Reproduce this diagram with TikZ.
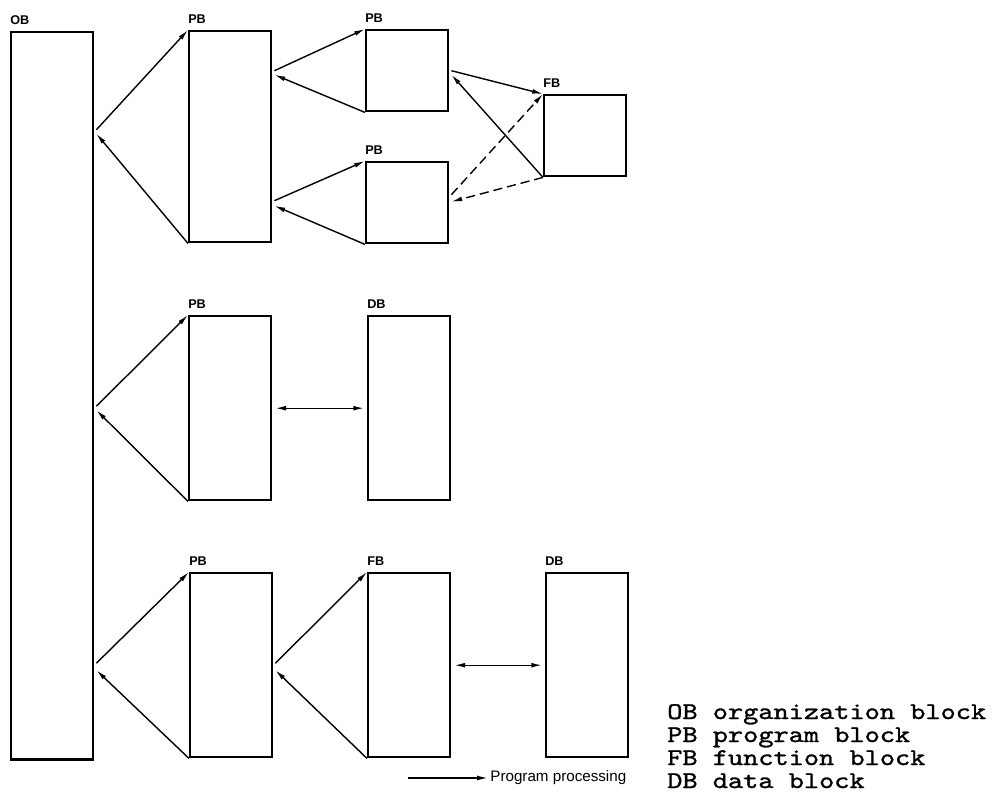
\documentclass[tikz,border=0pt]{standalone}
\usepackage{fontspec}
\setmainfont{Liberation Sans}
\setsansfont{Liberation Sans}
\newfontfamily\keyfont{lmmono10-regular.otf}[FakeStretch=1.21,FakeBold=1.2]
\usetikzlibrary{arrows.meta,positioning,calc}

\begin{document}
\begin{tikzpicture}[
    x=0.025cm, y=-0.025cm,
    >={Latex[length=2.7mm,width=1.2mm]},
    font=\sffamily,
    blk/.style={
        draw, line width=1.7pt, anchor=north west, inner sep=0pt,
        minimum width=2.05cm, minimum height=#1,
    },
    lbl/.style={inner sep=0pt, font=\sffamily\bfseries\fontsize{9}{10}\selectfont},
    call/.style={->, line width=1pt},
    back/.style={->, line width=1pt},
    later/.style={->, line width=1pt, dash pattern=on 6.5pt off 3.5pt},
    data/.style={<->, line width=1pt, shorten <=2pt, shorten >=2pt},
    keysty/.style={inner sep=0pt, font=\keyfont\fontsize{17}{19}\selectfont},
    ppsty/.style={inner sep=1.5pt, font=\sffamily\fontsize{10.8}{12}\selectfont},
]
\useasboundingbox (0,0) rectangle (996,794);

% ============================================================
% BLOCKS
% ============================================================
\node[blk=18.175cm] (ob) at (10,31) {};
\node[lbl, above right=0.15cm and 0cm of ob.north west] (obl) {OB};

% first branch: PB with two PBs and one FB
\node[blk=5.275cm] (pbA) at (188,30) {};
\node[lbl, above right=0.15cm and 0cm of pbA.north west] (pbAl) {PB};

\node[blk=2.025cm] (pbB) at (365,29) {};
\node[lbl, above right=0.15cm and 0cm of pbB.north west] (pbBl) {PB};

\node[blk=2.025cm] (pbC) at (365,161) {};
\node[lbl, above right=0.15cm and 0cm of pbC.north west] (pbCl) {PB};

\node[blk=2.025cm] (fbA) at (543,94) {};
\node[lbl, above right=0.15cm and 0cm of fbA.north west] (fbAl) {FB};

% second branch: PB with DB
\node[blk=4.6cm] (pbD) at (188,315) {};
\node[lbl, above right=0.15cm and 0cm of pbD.north west] (pbDl) {PB};

\node[blk=4.6cm] (dbA) at (367,315) {};
\node[lbl, above right=0.15cm and 0cm of dbA.north west] (dbAl) {DB};

% third branch: PB, FB and DB
\node[blk=4.6cm] (pbE) at (189,572) {};
\node[lbl, above right=0.15cm and 0cm of pbE.north west] (pbEl) {PB};

\node[blk=4.6cm] (fbB) at (367,572) {};
\node[lbl, above right=0.15cm and 0cm of fbB.north west] (fbBl) {FB};

\node[blk=4.6cm] (dbB) at (545,572) {};
\node[lbl, above right=0.15cm and 0cm of dbB.north west] (dbBl) {DB};

% ============================================================
% PROGRAM PROCESSING (call and return)
% ============================================================
\draw[call] ($(ob.east |- pbA.west)+(2,-7)$) -- (pbA.north west);
\draw[back] (pbA.south west) -- ($(ob.east |- pbA.west)+(2,-3)$);

\draw[call] ($(ob.east |- pbD.west)+(2,-2)$) -- (pbD.north west);
\draw[back] (pbD.south west) -- ($(ob.east |- pbD.west)+(2,2)$);

\draw[call] ($(ob.east |- pbE.west)+(2,-2)$) -- (pbE.north west);
\draw[back] (pbE.south west) -- ($(ob.east |- pbE.west)+(2,5)$);

\draw[call] ($(pbA.east |- pbB.west)+(2,0)$) -- (pbB.north west);
\draw[back] (pbB.south west) -- ($(pbA.east |- pbB.west)+(2,4)$);

\draw[call] ($(pbA.east |- pbC.west)+(2,-2)$) -- (pbC.north west);
\draw[back] (pbC.south west) -- ($(pbA.east |- pbC.west)+(2,3)$);

\draw[call] ($(pbE.east |- fbB.west)+(2,-2)$) -- (fbB.north west);
\draw[back] (fbB.south west) -- ($(pbE.east |- fbB.west)+(2,5)$);

% PB -> FB, solid and dashed
\draw[call] ($(pbB.east)+(2,0)$) -- (fbA.north west);
\draw[back] (fbA.south west) -- ($(pbB.east)+(2,4)$);
\draw[later] ($(pbC.east)+(2,-8)$) -- (fbA.north west);
\draw[later] (fbA.south west) -- ($(pbC.east)+(2,-1)$);

% data access
\draw[data] (pbD) -- (dbA);
\draw[data] (fbB) -- (dbB);

% ============================================================
% KEY
% ============================================================
\coordinate (ppstart) at (408,778);
\node[ppsty, anchor=west] (pplbl) at (488,778) {Program processing};
\draw[call] (ppstart) -- (pplbl.west);

\node[keysty, anchor=base west] (keyob) at (667,719) {OB organization block};
\node[keysty, anchor=base west] (keypb) at (667,742) {PB program block};
\node[keysty, anchor=base west] (keyfb) at (667,765) {FB function block};
\node[keysty, anchor=base west] (keydb) at (667,788) {DB data block};

\end{tikzpicture}
\end{document}
